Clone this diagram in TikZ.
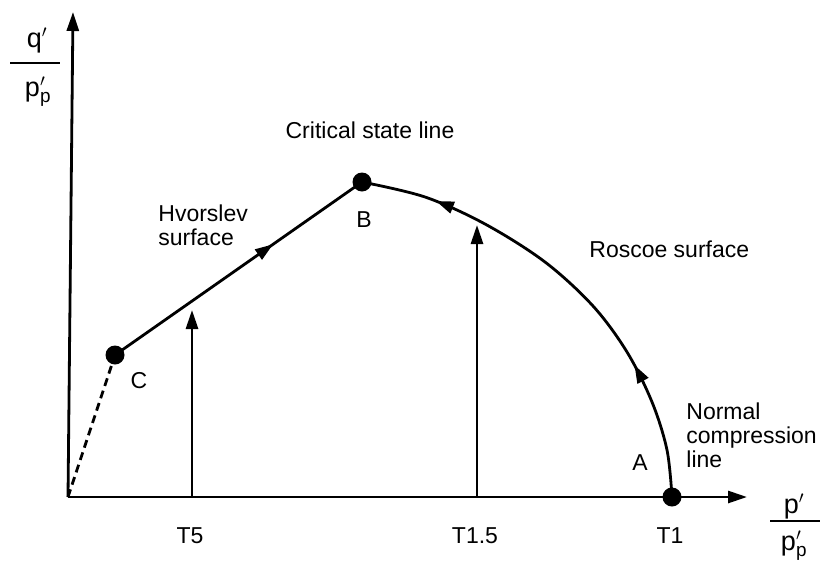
\documentclass[tikz,border=0pt]{standalone}
\usepackage{fontspec}
\setmainfont{Liberation Sans}
\usetikzlibrary{arrows.meta,decorations.markings}
\begin{document}
\begin{tikzpicture}[x=1pt,y=-1pt,
  line width=2.8pt,
  tip/.style={-{Triangle[length=19pt,width=12pt]}},
  dot/.style={circle,fill=black,draw=none,inner sep=0pt,minimum size=19pt},
  lbl/.style={inner sep=0pt,font=\fontsize{23}{23}\selectfont},
  frac/.style={inner sep=0pt,font=\fontsize{27}{27}\selectfont},
  multi/.style={inner sep=0pt,align=left,font=\fontsize{23}{24}\selectfont},
  roscoe/.style={postaction={decorate},decoration={markings,
     mark=at position 0.29 with {\arrow{Triangle[length=18pt,width=12pt]}},
     mark=at position 0.84 with {\arrow{Triangle[length=18pt,width=12pt]}}}},
  hvor/.style={postaction={decorate},decoration={markings,
     mark=at position 0.64 with {\arrow{Triangle[length=18pt,width=12pt]}}}},
]
\useasboundingbox (0,0) rectangle (822,581);

% key points
\coordinate (O) at (68,497);
\coordinate (ytip) at (73,12);
\coordinate (xtip) at (747,497);
\coordinate (b) at (362,182);
\coordinate (c) at (115,355);
\coordinate (t1) at (672,497);
\coordinate (t5base) at (192,497);
\coordinate (t5tip) at (192,310);
\coordinate (t15base) at (477,497);
\coordinate (t15tip) at (477,225);

% axes
\draw[tip] (O) -- (ytip);
\draw[tip] (O) -- (xtip);

% stress paths
\draw[tip] (t5base) -- (t5tip);
\draw[tip] (t15base) -- (t15tip);

% dashed tension cut-off
\draw[dashed,dash pattern=on 8pt off 5pt] (O) -- (c);

% Hvorslev surface
\draw[hvor] (c) -- (b);

% Roscoe surface
\draw[roscoe] plot[smooth,tension=0.55] coordinates {(t1) (667,450) (652,402) (627,352) (593,306) (545,262) (485,224) (425,197) (b)};

% dots
\node[dot] (B) at (b) {};
\node[dot] (C) at (c) {};
\node[dot] (T1dot) at (t1) {};

% labels
\node[lbl,anchor=base] (csl) at (370,138) {Critical state line};
\node[multi,anchor=north west] (hv) at (157,203) {Hvorslev\\surface};
\node[lbl,anchor=base] (Blbl) at (364,227) {B};
\node[lbl,anchor=base] (Clbl) at (139,388) {C};
\node[lbl,anchor=base west] (ros) at (588,257) {Roscoe surface};
\node[multi,anchor=north west] (ncl) at (685,401) {Normal\\compression\\line};
\node[lbl,anchor=base] (Albl) at (640,470) {A};
\node[lbl,anchor=base] (T5) at (190,543) {T5};
\node[lbl,anchor=base] (T15) at (475,543) {T1.5};
\node[lbl,anchor=base] (T1) at (670,543) {T1};

% y-axis fraction
\node[frac,anchor=base] (qn) at (37,47) {q$'$};
\coordinate (yb1) at (10,63);
\coordinate (yb2) at (60,63);
\draw (yb1) -- (yb2);
\node[frac,anchor=base] (qd) at (38,96) {p$'_{\mathrm{p}}$};

% x-axis fraction
\node[frac,anchor=base] (pn) at (794,513) {p$'$};
\coordinate (xb1) at (770,521);
\coordinate (xb2) at (820,521);
\draw (xb1) -- (xb2);
\node[frac,anchor=base] (pd) at (794,550) {p$'_{\mathrm{p}}$};
\end{tikzpicture}
\end{document}
